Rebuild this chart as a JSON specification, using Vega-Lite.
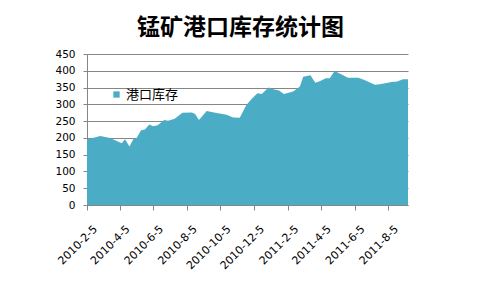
{
  "$schema": "https://vega.github.io/schema/vega-lite/v6.json",
  "width": 321,
  "height": 151,
  "autosize": "none",
  "padding": {"left": 87, "top": 54, "right": 73, "bottom": 87},
  "background": "white",
  "title": {
    "text": "锰矿港口库存统计图",
    "font": "Noto Sans CJK SC",
    "fontSize": 23,
    "fontWeight": "bold",
    "color": "black",
    "anchor": "middle",
    "frame": "group",
    "offset": 9,
    "dx": -7
  },
  "data": {
    "values": [
      {"date": "2010-02-05", "value": 195},
      {"date": "2010-03-01", "value": 206},
      {"date": "2010-03-19", "value": 200},
      {"date": "2010-04-09", "value": 184},
      {"date": "2010-04-15", "value": 196},
      {"date": "2010-04-23", "value": 174},
      {"date": "2010-04-30", "value": 196},
      {"date": "2010-05-06", "value": 200},
      {"date": "2010-05-14", "value": 223},
      {"date": "2010-05-21", "value": 225},
      {"date": "2010-05-29", "value": 240},
      {"date": "2010-06-05", "value": 235},
      {"date": "2010-06-13", "value": 238},
      {"date": "2010-06-25", "value": 253},
      {"date": "2010-07-02", "value": 251},
      {"date": "2010-07-14", "value": 257},
      {"date": "2010-07-28", "value": 275},
      {"date": "2010-08-14", "value": 276},
      {"date": "2010-08-20", "value": 271},
      {"date": "2010-08-27", "value": 253},
      {"date": "2010-09-10", "value": 280},
      {"date": "2010-09-28", "value": 274},
      {"date": "2010-10-16", "value": 269},
      {"date": "2010-10-28", "value": 261},
      {"date": "2010-11-09", "value": 260},
      {"date": "2010-11-21", "value": 298},
      {"date": "2010-11-30", "value": 315},
      {"date": "2010-12-11", "value": 333},
      {"date": "2010-12-19", "value": 331},
      {"date": "2010-12-31", "value": 350},
      {"date": "2011-01-09", "value": 345},
      {"date": "2011-01-19", "value": 341},
      {"date": "2011-01-28", "value": 331},
      {"date": "2011-02-14", "value": 338},
      {"date": "2011-02-26", "value": 353},
      {"date": "2011-03-04", "value": 382},
      {"date": "2011-03-17", "value": 387},
      {"date": "2011-03-26", "value": 364},
      {"date": "2011-04-03", "value": 369},
      {"date": "2011-04-14", "value": 378},
      {"date": "2011-04-21", "value": 378},
      {"date": "2011-04-30", "value": 399},
      {"date": "2011-05-09", "value": 392},
      {"date": "2011-05-24", "value": 379},
      {"date": "2011-06-12", "value": 379},
      {"date": "2011-06-24", "value": 372},
      {"date": "2011-07-12", "value": 358},
      {"date": "2011-07-21", "value": 360},
      {"date": "2011-08-14", "value": 367},
      {"date": "2011-08-20", "value": 367},
      {"date": "2011-09-01", "value": 375},
      {"date": "2011-09-10", "value": 375}
    ]
  },
  "mark": {"type": "area", "color": "#4BACC6", "interpolate": "linear"},
  "encoding": {
    "x": {
      "field": "date",
      "type": "temporal",
      "scale": {
        "type": "utc",
        "nice": false,
        "domain": [
          {"year": 2010, "month": 2, "date": 5, "utc": true},
          {"year": 2011, "month": 9, "date": 10, "utc": true}
        ]
      },
      "axis": {
        "title": null,
        "values": [
          {"year": 2010, "month": 2, "date": 5, "utc": true},
          {"year": 2010, "month": 4, "date": 5, "utc": true},
          {"year": 2010, "month": 6, "date": 5, "utc": true},
          {"year": 2010, "month": 8, "date": 5, "utc": true},
          {"year": 2010, "month": 10, "date": 5, "utc": true},
          {"year": 2010, "month": 12, "date": 5, "utc": true},
          {"year": 2011, "month": 2, "date": 5, "utc": true},
          {"year": 2011, "month": 4, "date": 5, "utc": true},
          {"year": 2011, "month": 6, "date": 5, "utc": true},
          {"year": 2011, "month": 8, "date": 5, "utc": true}
        ],
        "format": "%Y-%-m-%-d",
        "labelAngle": -45,
        "labelFont": "DejaVu Sans",
        "labelFontSize": 11,
        "labelColor": "black",
        "labelOverlap": false,
        "labelPadding": 13,
        "labelOffset": 4,
        "grid": false,
        "tickColor": "#868686",
        "domainColor": "#868686",
        "tickSize": 5
      }
    },
    "y": {
      "field": "value",
      "type": "quantitative",
      "scale": {"domain": [0, 450], "nice": false},
      "axis": {
        "title": null,
        "values": [0, 50, 100, 150, 200, 250, 300, 350, 400, 450],
        "labelFont": "DejaVu Sans",
        "labelFontSize": 10.5,
        "labelColor": "black",
        "labelPadding": 8,
        "grid": true,
        "gridColor": "#868686",
        "tickColor": "#868686",
        "domainColor": "#868686",
        "tickSize": 4
      }
    },
    "color": {
      "datum": "港口库存",
      "scale": {"range": ["#4BACC6"]},
      "legend": {
        "title": null,
        "orient": "none",
        "legendX": 23,
        "legendY": 34,
        "padding": 0,
        "symbolType": "square",
        "symbolSize": 40,
        "symbolStrokeWidth": 0,
        "labelFont": "Noto Sans CJK SC",
        "labelFontSize": 13,
        "labelColor": "black",
        "labelOffset": 3
      }
    }
  },
  "config": {"view": {"stroke": null}}
}
